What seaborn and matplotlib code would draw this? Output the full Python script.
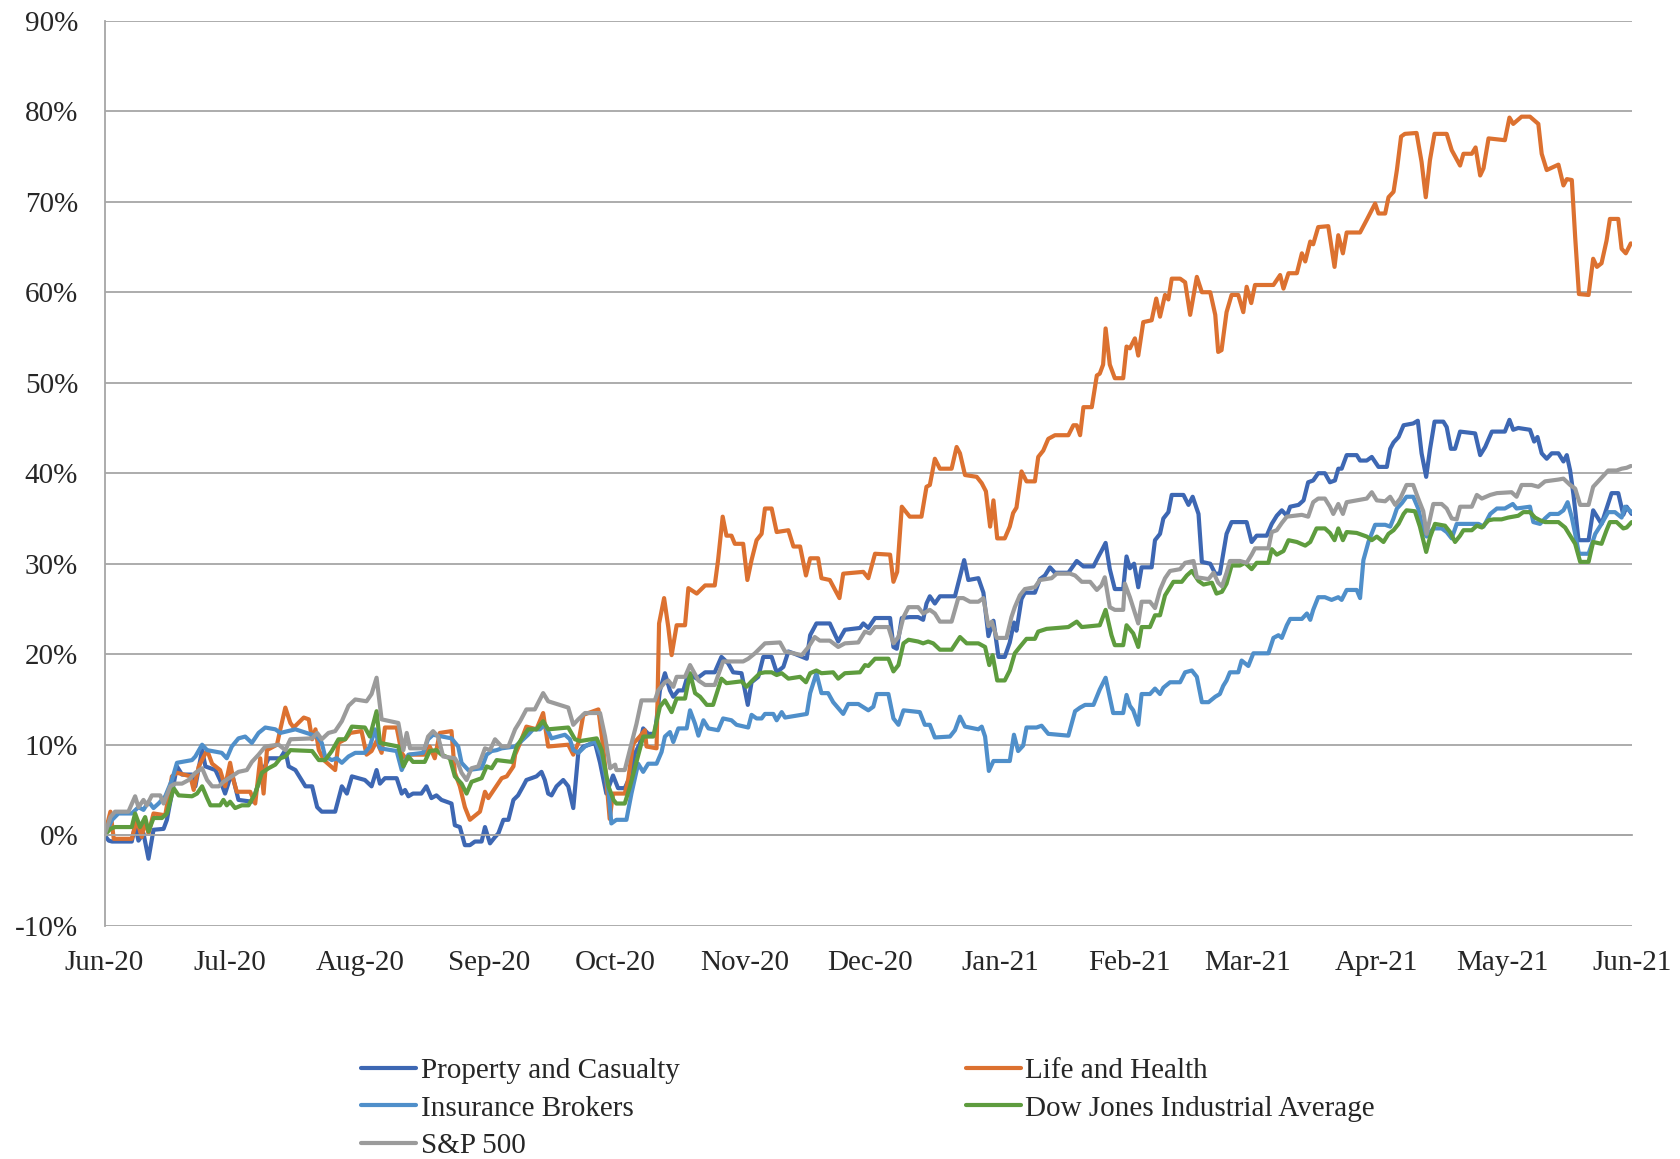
import pandas as pd
import matplotlib
matplotlib.use("Agg")
import matplotlib.pyplot as plt
import matplotlib.dates as mdates
from matplotlib.lines import Line2D
import seaborn as sns

start = pd.Timestamp("2020-06-01")
end = pd.Timestamp("2021-06-01")

# (days since 1 Jun 2020, % change)
property_casualty = [
    (0, 0), (1.0, -0.6), (1.8, -0.7), (6.5, -0.7), (7.3, 1.1), (8.1, -0.6), (9.3, 0.2), (10.5, -2.6), (11.7, 0.6),
    (14.1, 0.7), (14.9, 1.7), (17.3, 7.6), (18.5, 6.7), (20.9, 6.7), (21.7, 5.4), (23.3, 9.4), (24.1, 7.6), (26.5, 7.2),
    (27.6, 6.1), (28.8, 4.6), (30.4, 6.9), (32.0, 3.9), (35.2, 3.7), (36.0, 4.6), (37.6, 6.9), (39.2, 8.5), (42.0, 8.5),
    (43.2, 9.4), (44.0, 7.6), (45.6, 7.2), (48.0, 5.4), (49.6, 5.4), (50.8, 3.1), (51.9, 2.6), (55.1, 2.6), (56.7, 5.4),
    (57.9, 4.6), (59.1, 6.5), (62.2, 6.1), (63.8, 5.4), (65.0, 7.2), (65.8, 5.7), (67.0, 6.3), (69.8, 6.3), (71.0, 4.6),
    (71.8, 5.0), (72.6, 4.3), (73.7, 4.6), (75.7, 4.6), (76.9, 5.4), (78.1, 4.1), (79.3, 4.4), (80.5, 3.9), (82.9, 3.5),
    (83.7, 1.1), (84.9, 0.9), (86.1, -1.1), (87.3, -1.1), (88.5, -0.7), (90.1, -0.7), (90.9, 0.9), (92.1, -0.9),
    (93.3, -0.2), (94.1, 0.2), (95.3, 1.7), (96.5, 1.7), (97.7, 3.9), (98.8, 4.4), (100.0, 5.4), (100.8, 6.1), (102.0, 6.3),
    (103.2, 6.5), (104.4, 7.0), (105.2, 6.1), (106.0, 4.6), (106.8, 4.4), (108.0, 5.4), (109.6, 6.1), (110.8, 5.4),
    (112.0, 3.0), (113.2, 9.1), (114.4, 9.8), (117.2, 10.2), (118.4, 8.0), (119.9, 4.6), (121.5, 6.6), (122.7, 5.2),
    (124.3, 5.2), (125.5, 6.4), (126.7, 9.0), (127.9, 10.1), (128.7, 11.8), (129.9, 11.2), (131.5, 11.2), (132.7, 16.0),
    (133.9, 17.9), (135.1, 16.0), (135.9, 15.3), (137.1, 16.0), (138.3, 16.0), (139.5, 17.9), (141.5, 17.3), (143.5, 18.0),
    (145.8, 18.0), (147.4, 19.7), (149.0, 19.0), (150.2, 18.0), (152.2, 17.9), (153.0, 16.0), (153.7, 14.4), (154.6, 16.9),
    (156.2, 17.5), (157.4, 19.7), (159.4, 19.7), (160.6, 18.0), (162.2, 18.6), (163.4, 20.3), (164.6, 20.1), (167.8, 19.5),
    (168.6, 22.1), (170.1, 23.4), (173.3, 23.4), (175.3, 21.4), (176.9, 22.7), (180.5, 22.9), (181.3, 23.4), (182.5, 22.9),
    (184.1, 24.0), (187.7, 24.0), (188.5, 20.8), (189.3, 20.6), (190.5, 24.0), (192.4, 24.1), (194.4, 24.1), (195.6, 23.8),
    (196.4, 25.6), (197.2, 26.4), (198.4, 25.6), (199.6, 26.4), (203.2, 26.4), (204.2, 28.2), (205.4, 30.4), (206.4, 28.2),
    (208.8, 28.4), (210.0, 26.8), (211.2, 22.0), (212.4, 23.7), (213.6, 19.7), (215.1, 19.7), (216.3, 21.3), (217.3, 23.5),
    (217.9, 22.6), (219.1, 26.1), (219.9, 26.8), (222.3, 26.8), (223.5, 28.3), (224.7, 28.7), (225.9, 29.6), (227.1, 29.0),
    (230.3, 29.0), (232.3, 30.3), (233.9, 29.7), (236.3, 29.7), (237.5, 30.8), (238.2, 31.4), (239.2, 32.3), (240.2, 29.4),
    (241.4, 27.2), (243.4, 27.2), (244.2, 30.8), (245.0, 29.5), (246.0, 30.0), (247.0, 27.4), (247.8, 29.6), (250.2, 29.6),
    (251.0, 32.6), (252.2, 33.3), (253.0, 35.0), (254.2, 35.7), (255.0, 37.6), (257.8, 37.6), (259.0, 36.5), (260.0, 37.4),
    (261.4, 35.5), (262.2, 30.2), (264.2, 30.0), (265.4, 28.9), (266.5, 28.9), (268.1, 33.3), (269.3, 34.6), (272.9, 34.6),
    (274.1, 32.4), (275.3, 33.1), (277.7, 33.1), (278.9, 34.4), (280.1, 35.3), (281.3, 35.9), (282.5, 35.3), (283.3, 36.3),
    (285.3, 36.5), (286.5, 37.0), (287.6, 39.0), (288.8, 39.2), (290.0, 40.0), (291.6, 40.0), (292.8, 39.0), (294.0, 39.2),
    (294.8, 40.5), (295.6, 40.5), (296.8, 42.0), (299.2, 42.0), (300.0, 41.4), (301.6, 41.4), (302.8, 41.8), (304.4, 40.7),
    (306.4, 40.7), (307.2, 42.7), (308.0, 43.4), (309.2, 44.0), (310.4, 45.3), (312.7, 45.5), (313.8, 45.8), (314.7, 42.2),
    (315.8, 39.6), (316.7, 42.6), (317.8, 45.7), (319.9, 45.7), (320.7, 45.1), (321.7, 42.7), (322.7, 42.7), (323.9, 44.6),
    (327.5, 44.4), (328.7, 42.0), (329.9, 42.9), (331.5, 44.6), (334.6, 44.6), (335.7, 45.9), (336.6, 44.8), (337.8, 45.0),
    (340.6, 44.8), (341.6, 43.5), (342.4, 44.0), (343.4, 42.2), (344.6, 41.6), (345.8, 42.2), (347.4, 42.2), (348.6, 41.3),
    (349.4, 42.0), (350.2, 40.3), (351.0, 37.6), (352.2, 32.6), (354.6, 32.6), (355.7, 35.9), (357.7, 34.4), (360.1, 37.8),
    (361.7, 37.8), (362.9, 35.4), (363.7, 36.3), (364.9, 35.5),
]

life_health = [
    (0, 0), (1.4, 2.6), (2.2, -0.4), (6.5, -0.4), (7.7, 1.7), (8.9, -0.2), (9.7, 1.7), (10.5, 0.2), (11.7, 2.4),
    (14.5, 2.2), (16.1, 6.5), (17.3, 6.9), (20.5, 6.5), (21.3, 5.0), (22.5, 7.6), (24.5, 9.4), (25.7, 7.9), (27.6, 7.2),
    (28.8, 5.4), (30.0, 8.0), (30.8, 6.1), (31.6, 4.8), (34.8, 4.8), (36.0, 3.5), (37.2, 8.5), (38.0, 4.6), (38.8, 9.4),
    (41.2, 10.0), (42.0, 11.7), (43.2, 14.1), (44.4, 12.4), (45.2, 11.9), (47.6, 13.0), (48.8, 12.8), (49.6, 10.6),
    (50.4, 11.7), (51.2, 9.4), (52.4, 8.3), (55.1, 7.2), (55.9, 10.2), (57.5, 10.6), (58.7, 11.3), (61.4, 11.5),
    (62.6, 8.9), (63.8, 9.3), (65.0, 10.4), (66.2, 9.1), (67.0, 11.9), (69.8, 11.9), (71.0, 9.1), (72.2, 8.3), (73.0, 8.9),
    (76.5, 8.9), (77.7, 9.8), (78.9, 8.5), (80.1, 11.3), (82.9, 11.5), (83.7, 6.9), (84.9, 5.4), (86.1, 3.1), (87.3, 1.7),
    (89.7, 2.6), (90.9, 4.8), (91.7, 4.1), (93.3, 5.2), (94.9, 6.3), (96.1, 6.5), (97.7, 7.6), (98.1, 8.9), (99.3, 10.2),
    (100.8, 12.0), (103.2, 11.7), (104.8, 13.5), (106.0, 9.8), (110.8, 10.0), (112.0, 8.9), (113.2, 10.2), (114.4, 13.3),
    (118.0, 13.9), (119.2, 9.5), (119.9, 6.1), (120.7, 1.8), (121.5, 4.6), (124.3, 4.6), (125.1, 6.1), (126.3, 10.1),
    (127.9, 10.9), (129.1, 11.6), (129.5, 9.8), (131.9, 9.6), (132.5, 23.4), (133.7, 26.2), (134.7, 23.0), (135.5, 19.9),
    (136.7, 23.2), (138.7, 23.2), (139.5, 27.3), (141.5, 26.7), (143.5, 27.6), (145.8, 27.6), (146.6, 30.4), (147.7, 35.2),
    (148.6, 33.1), (149.8, 33.1), (150.6, 32.2), (152.6, 32.2), (153.6, 28.2), (154.6, 30.4), (155.8, 32.6), (157.0, 33.3),
    (157.8, 36.1), (159.4, 36.1), (160.6, 33.5), (163.4, 33.7), (164.6, 31.9), (166.2, 31.9), (167.6, 28.7), (168.6, 30.6),
    (170.5, 30.6), (171.3, 28.4), (173.3, 28.2), (175.6, 26.2), (176.5, 28.9), (181.3, 29.1), (182.5, 28.4), (184.1, 31.1),
    (187.7, 31.0), (188.5, 28.0), (189.4, 29.1), (190.5, 36.3), (192.4, 35.2), (195.2, 35.2), (196.4, 38.5), (197.2, 38.7),
    (198.4, 41.6), (199.6, 40.5), (202.4, 40.5), (203.6, 42.9), (204.4, 42.2), (205.6, 39.8), (208.4, 39.6), (209.6, 38.9),
    (210.6, 38.0), (211.6, 34.1), (212.4, 37.0), (213.3, 32.8), (215.1, 32.8), (216.3, 34.1), (217.1, 35.6), (217.9, 36.2),
    (219.1, 40.2), (220.3, 39.1), (222.3, 39.1), (223.1, 41.8), (224.3, 42.5), (225.5, 43.8), (227.1, 44.2), (230.3, 44.2),
    (231.5, 45.3), (232.3, 45.3), (233.1, 44.2), (233.9, 47.3), (235.9, 47.3), (237.1, 50.8), (237.8, 51.0), (238.6, 52.0),
    (239.2, 56.0), (240.2, 52.0), (241.4, 50.5), (243.4, 50.5), (244.2, 54.0), (245.0, 53.8), (246.2, 54.9), (247.0, 53.0),
    (248.2, 56.7), (250.2, 56.9), (251.3, 59.3), (252.2, 57.3), (253.4, 59.7), (254.2, 59.2), (255.0, 61.5), (257.0, 61.5),
    (258.2, 61.1), (259.4, 57.5), (261.0, 61.7), (262.2, 60.0), (264.2, 60.0), (265.4, 57.5), (266.1, 53.4), (266.9, 53.6),
    (268.1, 57.8), (269.3, 59.7), (270.9, 59.7), (272.1, 57.8), (272.9, 60.6), (274.0, 58.8), (274.9, 60.8), (279.3, 60.8),
    (280.9, 61.9), (281.7, 60.4), (282.9, 62.1), (284.9, 62.1), (286.1, 64.3), (286.9, 63.4), (288.1, 65.6), (288.8, 65.3),
    (290.0, 67.2), (292.4, 67.3), (293.9, 62.8), (294.8, 66.3), (295.9, 64.3), (296.8, 66.6), (300.0, 66.6), (301.6, 68.0),
    (303.6, 69.8), (304.4, 68.7), (306.0, 68.7), (306.8, 70.5), (308.0, 71.1), (308.8, 73.5), (309.8, 77.2), (310.7, 77.5),
    (313.5, 77.6), (314.7, 74.4), (315.7, 70.5), (316.7, 74.6), (317.8, 77.5), (320.7, 77.5), (321.9, 75.7), (323.9, 74.0),
    (324.7, 75.3), (326.7, 75.3), (327.6, 76.0), (328.7, 72.9), (329.5, 73.7), (330.7, 77.0), (334.6, 76.8), (335.7, 79.3),
    (336.6, 78.6), (338.6, 79.4), (340.6, 79.4), (342.6, 78.6), (343.4, 75.3), (344.6, 73.5), (347.4, 74.1), (348.6, 71.8),
    (349.4, 72.5), (350.6, 72.4), (351.4, 66.1), (352.3, 59.8), (354.6, 59.7), (355.7, 63.7), (356.6, 62.8), (357.7, 63.2),
    (358.9, 65.7), (359.7, 68.1), (361.7, 68.1), (362.5, 64.8), (363.5, 64.3), (364.7, 65.4),
]

insurance_brokers = [
    (0, 0), (1.8, 1.7), (3.3, 2.4), (6.5, 2.4), (8.1, 3.1), (9.3, 2.8), (10.5, 3.7), (11.7, 3.0), (12.9, 3.5),
    (14.5, 4.3), (16.1, 6.1), (17.3, 8.0), (20.9, 8.3), (21.7, 8.7), (23.3, 10.0), (24.5, 9.4), (28.0, 9.1), (29.2, 8.5),
    (30.4, 9.8), (32.0, 10.7), (33.6, 10.9), (35.2, 10.2), (36.8, 11.3), (38.4, 11.9), (40.8, 11.7), (42.0, 11.3),
    (45.6, 11.7), (49.6, 11.1), (50.8, 10.9), (51.9, 10.2), (52.7, 8.7), (54.3, 8.3), (55.5, 8.5), (56.7, 8.0), (58.3, 8.7),
    (59.9, 9.1), (62.2, 9.1), (63.4, 9.8), (64.6, 11.7), (65.8, 9.6), (69.8, 9.3), (71.0, 7.2), (72.6, 8.9), (76.1, 9.1),
    (77.3, 10.6), (78.5, 11.1), (82.9, 10.7), (84.5, 9.8), (85.3, 8.0), (86.9, 7.2), (90.1, 7.4), (91.3, 8.9), (92.5, 9.3),
    (93.7, 9.4), (94.9, 9.6), (98.1, 9.8), (99.6, 10.4), (101.2, 11.1), (102.4, 11.7), (104.0, 11.7), (105.2, 12.2),
    (106.8, 10.7), (108.4, 10.9), (110.0, 11.1), (111.2, 10.6), (112.0, 9.4), (113.2, 9.1), (114.8, 9.8), (117.2, 10.4),
    (118.8, 8.7), (120.4, 5.0), (121.1, 1.3), (122.3, 1.7), (124.7, 1.7), (125.9, 4.6), (127.5, 7.9), (128.7, 7.0),
    (129.9, 7.9), (131.9, 7.9), (133.1, 9.2), (133.9, 10.9), (135.1, 11.4), (135.9, 10.3), (137.1, 11.8), (139.1, 11.8),
    (139.9, 13.8), (141.1, 12.3), (141.9, 11.0), (143.1, 12.7), (144.3, 11.8), (146.6, 11.6), (147.8, 12.9), (149.8, 12.7),
    (151.0, 12.2), (153.8, 11.9), (154.6, 13.3), (155.8, 12.9), (157.0, 12.9), (157.8, 13.4), (159.8, 13.4), (160.6, 12.7),
    (161.8, 13.6), (162.6, 13.0), (167.8, 13.4), (168.6, 15.7), (170.1, 17.9), (171.3, 15.7), (172.9, 15.7), (174.1, 14.7),
    (176.5, 13.4), (177.7, 14.5), (180.1, 14.5), (182.5, 13.8), (183.7, 14.2), (184.5, 15.6), (187.3, 15.6), (188.5, 12.9),
    (189.7, 12.2), (190.9, 13.8), (194.8, 13.6), (196.0, 12.2), (197.2, 12.2), (198.4, 10.8), (202.0, 10.9), (203.2, 11.6),
    (204.4, 13.1), (205.6, 12.0), (208.8, 11.7), (209.6, 12.0), (210.4, 10.9), (211.3, 7.1), (212.4, 8.2), (216.3, 8.2),
    (217.3, 11.1), (218.3, 9.3), (219.5, 9.9), (220.3, 11.9), (222.7, 11.9), (223.9, 12.1), (225.5, 11.2), (230.3, 11.0),
    (231.9, 13.7), (233.1, 14.1), (234.3, 14.4), (236.3, 14.4), (237.8, 16.1), (239.2, 17.4), (241.0, 13.5), (243.4, 13.5),
    (244.2, 15.5), (245.0, 14.3), (245.8, 13.8), (247.0, 12.2), (247.8, 15.6), (249.8, 15.6), (251.0, 16.2), (252.2, 15.6),
    (253.0, 16.3), (254.6, 16.9), (257.0, 16.9), (258.2, 18.0), (259.8, 18.2), (261.0, 17.5), (262.2, 14.7), (263.8, 14.7),
    (265.4, 15.3), (266.5, 15.6), (267.3, 16.5), (268.1, 17.1), (268.9, 18.0), (270.9, 18.0), (271.7, 19.3), (273.3, 18.7),
    (274.5, 20.1), (278.1, 20.1), (279.3, 21.8), (280.5, 22.1), (281.3, 21.8), (282.5, 23.2), (283.3, 23.9), (286.1, 23.9),
    (287.3, 24.5), (288.1, 23.8), (288.8, 24.9), (290.0, 26.3), (291.6, 26.3), (293.2, 26.0), (294.8, 26.3), (295.6, 26.0),
    (296.8, 27.1), (299.2, 27.1), (300.0, 26.2), (300.8, 30.4), (302.0, 32.4), (303.6, 34.3), (306.0, 34.3), (307.2, 34.1),
    (308.0, 35.0), (308.8, 36.1), (310.0, 36.7), (311.1, 37.4), (312.7, 37.4), (313.9, 36.1), (315.1, 33.7), (315.9, 33.0),
    (317.5, 33.9), (319.5, 33.9), (320.7, 33.5), (321.9, 32.8), (323.1, 34.4), (328.3, 34.4), (329.5, 34.1), (331.1, 35.5),
    (332.7, 36.1), (334.6, 36.1), (336.5, 36.6), (337.4, 36.1), (340.6, 36.3), (341.4, 34.6), (343.0, 34.4), (344.2, 35.0),
    (345.4, 35.5), (347.4, 35.5), (348.6, 35.9), (349.6, 36.8), (350.6, 35.1), (351.4, 33.3), (352.3, 31.1), (354.6, 31.1),
    (356.2, 33.3), (357.7, 34.4), (359.3, 35.7), (360.9, 35.7), (362.5, 35.1), (363.3, 36.3), (364.9, 35.7),
]

dow_jones = [
    (0, 0), (1.4, 0.7), (2.5, 0.9), (6.5, 0.9), (7.3, 2.4), (8.5, 0.9), (9.7, 2.0), (10.5, 0.4), (11.7, 1.9),
    (13.7, 1.9), (14.9, 2.4), (16.5, 5.2), (17.7, 4.4), (20.9, 4.3), (22.1, 4.6), (23.3, 5.4), (24.5, 4.1), (25.3, 3.3),
    (27.6, 3.3), (28.4, 3.9), (29.2, 3.3), (30.0, 3.7), (31.2, 3.0), (32.8, 3.3), (34.4, 3.3), (36.0, 4.6), (37.6, 6.9),
    (39.2, 7.4), (40.8, 7.8), (42.0, 8.5), (43.2, 8.7), (44.4, 9.4), (49.6, 9.3), (51.2, 8.3), (52.7, 8.3), (54.3, 9.3),
    (55.9, 10.6), (57.5, 10.6), (59.1, 12.0), (62.2, 11.9), (63.4, 10.9), (65.0, 13.7), (65.8, 10.2), (70.2, 9.8),
    (71.4, 7.6), (72.6, 8.7), (73.7, 8.1), (76.5, 8.1), (77.7, 9.3), (79.3, 9.4), (80.5, 8.9), (82.5, 8.5), (83.7, 6.5),
    (85.3, 5.7), (86.5, 4.6), (87.7, 5.9), (90.1, 6.3), (91.3, 7.6), (92.5, 7.4), (93.7, 8.3), (97.3, 8.1), (98.5, 9.8),
    (100.0, 10.9), (101.2, 11.7), (103.2, 11.7), (104.8, 12.6), (106.0, 11.7), (110.8, 11.9), (112.4, 10.6), (113.6, 10.4),
    (117.6, 10.7), (118.8, 9.4), (120.4, 5.4), (121.6, 3.9), (122.3, 3.5), (124.3, 3.5), (125.5, 5.3), (127.1, 8.1),
    (128.7, 10.9), (131.1, 10.9), (132.7, 14.2), (133.9, 14.9), (135.5, 13.6), (136.7, 15.1), (138.7, 15.1), (139.9, 17.9),
    (141.1, 15.7), (142.3, 15.3), (143.9, 14.4), (145.4, 14.4), (147.4, 17.3), (148.6, 16.8), (152.2, 17.0), (153.4, 16.4),
    (154.6, 17.0), (156.6, 17.9), (157.8, 18.0), (159.4, 18.0), (160.6, 17.7), (161.8, 17.9), (163.4, 17.3), (166.2, 17.5),
    (167.6, 16.9), (168.6, 17.9), (170.1, 18.2), (171.3, 17.9), (174.1, 18.0), (175.3, 17.3), (176.9, 17.9), (180.5, 18.0),
    (181.7, 18.8), (182.5, 18.7), (184.1, 19.5), (187.3, 19.5), (188.5, 18.1), (189.7, 18.8), (190.9, 21.2), (192.1, 21.6),
    (194.4, 21.4), (195.6, 21.2), (196.8, 21.4), (198.0, 21.2), (199.6, 20.5), (202.4, 20.5), (204.4, 21.9), (206.0, 21.2),
    (208.8, 21.2), (210.4, 20.8), (211.4, 18.8), (212.2, 19.9), (213.3, 17.1), (215.1, 17.1), (216.3, 18.2), (217.5, 20.1),
    (218.7, 20.8), (220.3, 21.7), (222.3, 21.7), (223.1, 22.5), (225.1, 22.8), (230.3, 23.0), (232.3, 23.6), (233.5, 23.0),
    (237.8, 23.2), (239.2, 24.9), (240.6, 22.1), (241.4, 21.0), (243.4, 21.0), (244.2, 23.2), (245.8, 22.3), (247.0, 20.8),
    (247.8, 23.0), (249.8, 23.0), (251.0, 24.3), (252.2, 24.3), (253.4, 26.5), (255.4, 28.0), (257.4, 28.0), (258.6, 28.7),
    (259.8, 29.2), (261.4, 28.1), (262.6, 27.7), (264.6, 27.9), (265.7, 26.7), (267.0, 26.9), (268.1, 27.8), (269.3, 29.8),
    (271.3, 29.8), (272.5, 30.1), (274.1, 29.4), (275.3, 30.1), (278.1, 30.1), (278.9, 31.6), (280.1, 31.0), (281.7, 31.4),
    (282.9, 32.6), (284.9, 32.4), (286.9, 32.0), (288.1, 32.4), (289.6, 33.9), (291.6, 33.9), (292.8, 33.4), (293.9, 32.6),
    (294.8, 33.9), (295.9, 32.6), (296.8, 33.5), (299.2, 33.4), (301.6, 33.0), (302.8, 32.6), (304.0, 33.0), (305.6, 32.4),
    (306.8, 33.3), (308.0, 33.7), (309.2, 34.4), (310.4, 35.5), (311.1, 35.9), (313.1, 35.8), (314.3, 34.1), (315.8, 31.3),
    (316.7, 32.9), (317.9, 34.4), (320.3, 34.2), (321.5, 33.5), (322.7, 32.4), (323.9, 33.1), (324.7, 33.7), (326.7, 33.7),
    (327.9, 34.2), (329.1, 34.0), (330.7, 34.8), (331.9, 34.9), (333.8, 34.9), (335.4, 35.1), (337.8, 35.3), (339.0, 35.7),
    (340.6, 35.7), (341.8, 35.1), (343.0, 34.8), (344.2, 34.6), (347.4, 34.6), (349.0, 34.0), (350.2, 33.1), (351.4, 32.2),
    (352.6, 30.2), (354.6, 30.2), (355.7, 32.4), (357.7, 32.2), (358.9, 33.7), (359.7, 34.6), (361.3, 34.6), (362.9, 33.9),
    (363.7, 34.0), (364.9, 34.6),
]

sp500 = [
    (0, 0), (1.4, 2.0), (2.5, 2.6), (5.7, 2.6), (7.3, 4.3), (8.1, 3.1), (9.3, 3.9), (10.1, 3.3), (11.3, 4.4),
    (13.3, 4.4), (14.1, 3.5), (15.7, 5.4), (16.9, 5.7), (18.5, 5.7), (20.1, 6.1), (21.7, 6.9), (23.3, 7.4), (24.5, 6.1),
    (25.7, 5.4), (27.3, 5.4), (28.4, 5.9), (30.4, 6.5), (32.0, 7.0), (34.0, 7.2), (35.2, 8.1), (36.8, 8.9), (38.4, 9.8),
    (41.6, 10.0), (43.2, 9.4), (44.4, 10.6), (49.6, 10.7), (50.8, 11.3), (51.9, 10.6), (53.5, 11.3), (55.1, 11.5),
    (56.7, 12.6), (58.3, 14.3), (59.9, 15.0), (62.6, 14.8), (63.8, 15.6), (65.0, 17.4), (66.2, 12.8), (70.2, 12.4),
    (71.4, 9.4), (72.2, 11.3), (73.0, 9.6), (76.5, 9.6), (77.3, 10.9), (78.5, 11.5), (79.7, 10.9), (80.9, 8.7), (83.7, 8.5),
    (84.5, 7.9), (85.3, 6.9), (86.5, 6.1), (87.7, 7.4), (89.3, 7.6), (90.9, 9.6), (92.1, 9.4), (93.3, 10.6), (94.9, 9.8),
    (96.5, 9.8), (98.1, 11.7), (99.3, 12.6), (100.8, 13.9), (102.8, 13.9), (104.8, 15.7), (106.0, 14.8), (110.8, 14.1),
    (112.0, 12.2), (113.2, 12.8), (114.8, 13.5), (118.4, 13.5), (119.6, 10.9), (120.8, 7.4), (122.0, 7.8), (122.3, 7.2),
    (124.3, 7.2), (125.5, 9.4), (127.1, 12.3), (128.3, 14.9), (131.5, 14.9), (132.3, 16.0), (133.9, 16.9), (134.7, 17.1),
    (135.9, 16.4), (136.7, 17.5), (138.7, 17.5), (139.9, 18.8), (141.9, 17.1), (143.5, 16.6), (145.8, 16.6), (147.8, 19.2),
    (152.6, 19.2), (153.8, 19.5), (155.4, 20.1), (157.8, 21.2), (161.4, 21.3), (162.6, 20.3), (164.6, 20.1), (166.6, 19.9),
    (168.2, 20.8), (169.7, 21.9), (170.9, 21.5), (173.3, 21.5), (175.3, 20.8), (176.9, 21.2), (180.1, 21.3), (181.7, 22.5),
    (182.9, 22.3), (184.1, 23.0), (187.3, 23.0), (188.5, 21.2), (189.7, 21.9), (190.9, 24.1), (192.1, 25.2), (194.4, 25.2),
    (195.6, 24.5), (197.2, 24.9), (198.4, 24.5), (199.6, 23.6), (202.4, 23.6), (204.0, 26.2), (205.2, 26.2), (206.8, 25.8),
    (208.8, 25.8), (210.0, 26.2), (211.2, 23.1), (212.0, 23.6), (213.2, 21.8), (215.5, 21.8), (216.7, 24.1), (217.5, 25.2),
    (218.7, 26.5), (219.9, 27.2), (222.3, 27.4), (223.5, 28.2), (226.3, 28.4), (227.5, 28.9), (230.7, 28.9), (231.9, 28.7),
    (233.5, 28.0), (235.5, 28.0), (237.1, 27.1), (238.2, 27.6), (239.0, 28.5), (240.2, 25.2), (241.4, 24.9), (243.4, 24.9),
    (243.8, 27.8), (245.0, 26.3), (247.0, 23.4), (247.8, 25.8), (249.8, 25.8), (251.0, 25.1), (252.2, 27.1), (253.4, 28.4),
    (254.6, 29.2), (257.0, 29.4), (258.2, 30.1), (260.2, 30.3), (261.0, 28.5), (263.8, 28.3), (265.0, 29.0), (266.1, 27.9),
    (267.0, 27.5), (268.1, 29.0), (268.9, 30.3), (271.3, 30.3), (272.9, 30.1), (274.1, 31.0), (274.9, 31.7), (278.1, 31.7),
    (278.9, 33.5), (280.1, 33.7), (281.3, 34.5), (282.5, 35.2), (286.1, 35.4), (287.6, 35.2), (288.8, 36.8), (290.0, 37.2),
    (291.6, 37.2), (292.8, 36.3), (293.6, 35.5), (294.8, 36.6), (295.9, 35.5), (296.8, 36.8), (299.2, 37.0), (301.6, 37.2),
    (302.8, 37.9), (304.0, 37.0), (306.0, 36.9), (307.2, 37.4), (308.4, 36.5), (309.6, 37.2), (311.1, 38.7), (312.7, 38.7),
    (313.9, 37.2), (315.1, 35.8), (315.9, 33.3), (317.5, 36.6), (319.5, 36.6), (320.7, 36.1), (321.9, 35.0), (323.1, 34.9),
    (323.9, 36.3), (326.7, 36.3), (327.9, 37.6), (329.1, 37.2), (331.1, 37.6), (332.7, 37.8), (336.2, 37.9), (337.4, 37.4),
    (338.6, 38.7), (341.0, 38.7), (342.6, 38.5), (344.2, 39.1), (347.4, 39.3), (348.6, 39.4), (350.2, 38.7), (351.4, 38.3),
    (352.6, 36.5), (354.6, 36.5), (355.7, 38.5), (356.9, 39.1), (358.1, 39.7), (359.3, 40.3), (361.3, 40.3), (362.5, 40.5),
    (363.7, 40.6), (364.7, 40.8),
]

names = ["Property and Casualty", "Life and Health", "Insurance Brokers",
         "Dow Jones Industrial Average", "S&P 500"]
colors = ["#3D67B3", "#DC7130", "#4F8FCA", "#5E9C3E", "#9B9B9B"]
series = [property_casualty, life_health, insurance_brokers, dow_jones, sp500]

frames = []
for name, pts in zip(names, series):
    d = pd.DataFrame(pts, columns=["day", "value"])
    d["date"] = start + pd.to_timedelta(d["day"], unit="D")
    d["series"] = name
    frames.append(d)
df = pd.concat(frames, ignore_index=True)

sns.set_style("white")
plt.rcParams["font.family"] = ["Liberation Serif", "DejaVu Serif"]
grey = "#A6A6A6"
lw = 3.0

fig = plt.figure(figsize=(16.81, 11.59), dpi=100)
ax = fig.add_axes([0.0622, 0.2013, 0.9087, 0.7808])

sns.lineplot(data=df, x="date", y="value", hue="series", hue_order=names,
             palette=colors, linewidth=lw, estimator=None, legend=False, ax=ax)

ax.set_xlim(start, end)
ax.set_ylim(-10, 90)
ax.set_yticks(range(-10, 91, 10))
ax.yaxis.set_major_formatter(lambda v, p: f"{v:.0f}%")
ax.xaxis.set_major_locator(mdates.MonthLocator())
ax.xaxis.set_major_formatter(mdates.DateFormatter("%b-%y"))
ax.grid(axis="y", color=grey, linewidth=1.3)
ax.set_axisbelow(True)
ax.set_xlabel("")
ax.set_ylabel("")

for s in ["top", "right"]:
    ax.spines[s].set_visible(False)
ax.spines["left"].set_color(grey)
ax.spines["left"].set_linewidth(1.3)
ax.spines["bottom"].set_position(("data", 0))
ax.spines["bottom"].set_color(grey)
ax.spines["bottom"].set_linewidth(1.3)

ax.tick_params(axis="y", length=7, width=1.3, color=grey, pad=12, labelsize=21)
ax.tick_params(axis="x", length=6, width=1.3, color=grey, pad=77, labelsize=21)

order = [0, 2, 4, 1, 3]
handles = [Line2D([], [], color=colors[i], linewidth=lw) for i in order]
labels = [names[i] for i in order]
fig.legend(handles, labels, loc="upper left", bbox_to_anchor=(361 / 1681, 1 - 1058 / 1159),
           ncol=2, frameon=False, fontsize=21, handlelength=1.9, handletextpad=0.15,
           columnspacing=9.8, labelspacing=0.37, borderpad=0, borderaxespad=0)

fig.savefig("out.png", dpi=100)
